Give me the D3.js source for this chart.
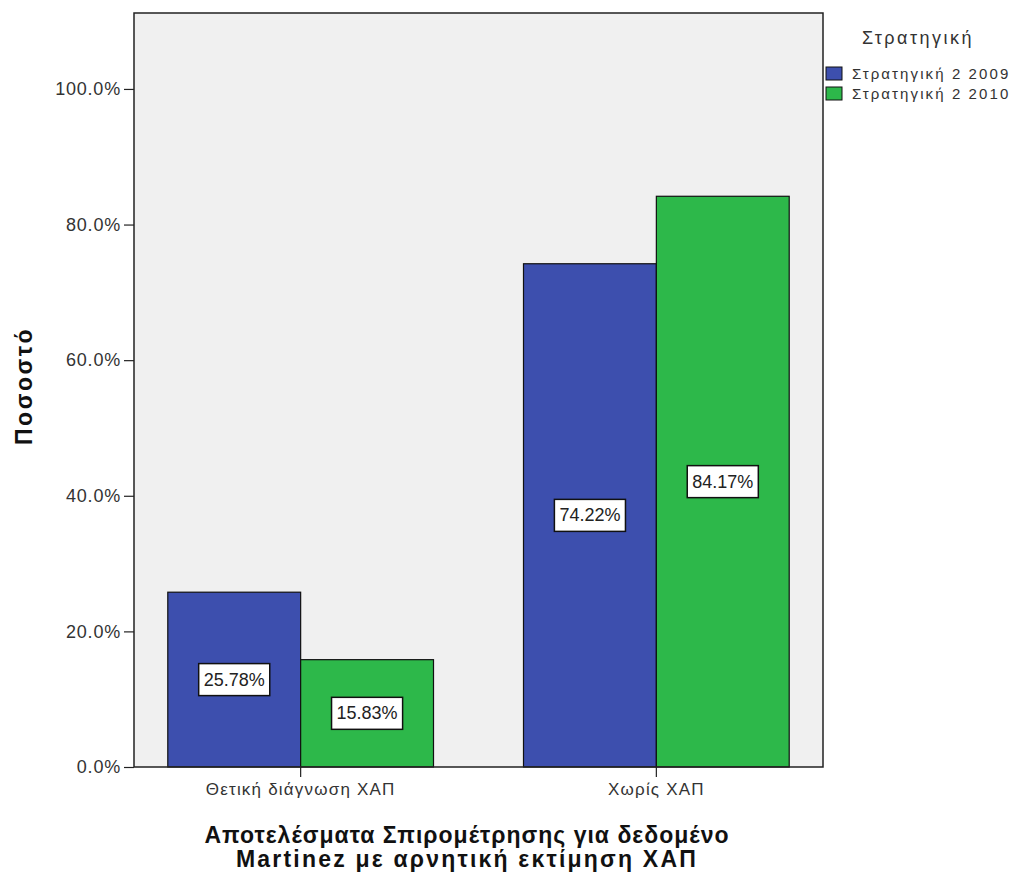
<!DOCTYPE html>
<html><head><meta charset="utf-8">
<script src="https://cdn.jsdelivr.net/npm/d3@7"></script>
<style>body{margin:0;background:#fff;} svg{display:block;}</style>
</head><body>
<svg id="c" width="1014" height="874"></svg>
<script>
const categories = ["Θετική διάγνωση ΧΑΠ", "Χωρίς ΧΑΠ"];
const seriesNames = ["Στρατηγική 2 2009", "Στρατηγική 2 2010"];
const values2009 = [25.78, 74.22];
const values2010 = [15.83, 84.17];
const yTicks = [0, 20, 40, 60, 80, 100];
const colors = ["#3d4fae", "#2db84a"];

const svg = d3.select("#c");
const m = {l:134, r:823, t:13, b:767};
const font = "'Liberation Sans', Arial, sans-serif";

const x0 = d3.scaleBand().domain(categories).range([m.l, m.r]).paddingInner(0.253).paddingOuter(0.095);
const x1 = d3.scaleBand().domain(seriesNames).range([0, x0.bandwidth()]);
const y = d3.scaleLinear().domain([0, 111.2]).range([m.b, m.t]);
const color = d3.scaleOrdinal().domain(seriesNames).range(colors);

svg.append("rect").attr("x", m.l).attr("y", m.t).attr("width", m.r-m.l).attr("height", m.b-m.t)
  .attr("fill", "#f0f0f0");

const data = categories.map((c,i)=>({cat:c, vals:[{s:seriesNames[0], v:values2009[i]},{s:seriesNames[1], v:values2010[i]}]}));

const g = svg.selectAll("g.grp").data(data).enter().append("g").attr("transform", d=>`translate(${x0(d.cat)},0)`);
g.selectAll("rect").data(d=>d.vals).enter().append("rect")
  .attr("x", d=>x1(d.s)).attr("width", x1.bandwidth())
  .attr("y", d=>y(d.v)).attr("height", d=>y(0)-y(d.v))
  .attr("fill", d=>color(d.s)).attr("stroke", "#111").attr("stroke-width", 1.2);

// value labels
g.selectAll("g.lab").data(d=>d.vals).enter().append("g").attr("class","lab").each(function(d){
  const gg = d3.select(this);
  const cx = x1(d.s) + x1.bandwidth()/2;
  const cy = y(d.v/2);
  const t = gg.append("text").attr("x", cx).attr("y", cy).attr("text-anchor","middle").attr("dominant-baseline","central")
    .attr("font-family", font).attr("font-size", 18).attr("fill","#222").text(d.v.toFixed(2)+"%");
  const bb = t.node().getBBox();
  gg.insert("rect","text").attr("x", bb.x-5).attr("y", cy-16).attr("width", bb.width+10).attr("height", 32)
    .attr("fill","#fff").attr("stroke","#111").attr("stroke-width",1.5);
});

// frame
svg.append("rect").attr("x", m.l).attr("y", m.t).attr("width", m.r-m.l).attr("height", m.b-m.t)
  .attr("fill", "none").attr("stroke", "#222").attr("stroke-width", 1.5);

// y axis
const ya = svg.append("g").attr("transform", `translate(${m.l},0)`)
  .call(d3.axisLeft(y).tickValues(yTicks).tickSize(10).tickPadding(3).tickFormat(d=>d.toFixed(1)+"%"));
ya.select(".domain").remove();
ya.selectAll("text").attr("font-family", font).attr("font-size", 18).attr("letter-spacing", 0.8).attr("fill","#333");
ya.selectAll("line").attr("stroke","#222").attr("stroke-width",1.2);

// x axis
const xa = svg.append("g").attr("transform", `translate(0,${m.b})`)
  .call(d3.axisBottom(x0).tickSize(10).tickPadding(6));
xa.select(".domain").remove();
xa.selectAll("text").attr("font-family", font).attr("font-size", 17).attr("letter-spacing", 1.2).attr("fill","#333");
xa.selectAll("line").attr("stroke","#222").attr("stroke-width",1.2);

// axis titles
svg.append("text").attr("transform", "translate(32,386) rotate(-90)").attr("text-anchor","middle")
  .attr("font-family", font).attr("font-weight","bold").attr("font-size", 23).attr("letter-spacing", 2.5).attr("fill","#111").text("Ποσοστό");
const xt = svg.append("text").attr("text-anchor","middle").attr("font-family", font).attr("font-weight","bold")
  .attr("font-size", 23).attr("fill","#111");
xt.append("tspan").attr("x", 467).attr("y", 843).attr("letter-spacing", 1).text("Αποτελέσματα Σπιρομέτρησης για δεδομένο");
xt.append("tspan").attr("x", 467).attr("y", 867).attr("letter-spacing", 2.2).text("Martinez με αρνητική εκτίμηση ΧΑΠ");

// legend
svg.append("text").attr("x", 918).attr("y", 44).attr("text-anchor","middle").attr("font-family", font)
  .attr("font-size", 18).attr("letter-spacing", 2.5).attr("fill","#333").text("Στρατηγική");
const lg = svg.selectAll("g.leg").data(seriesNames).enter().append("g").attr("transform", (d,i)=>`translate(826,${67+i*20})`);
lg.append("rect").attr("width", 16).attr("height", 13).attr("fill", d=>color(d)).attr("stroke","#111");
lg.append("text").attr("x", 26).attr("y", 12).attr("font-family", font).attr("font-size", 15).attr("letter-spacing", 2.1).attr("fill","#333").text(d=>d);
</script>
</body></html>
